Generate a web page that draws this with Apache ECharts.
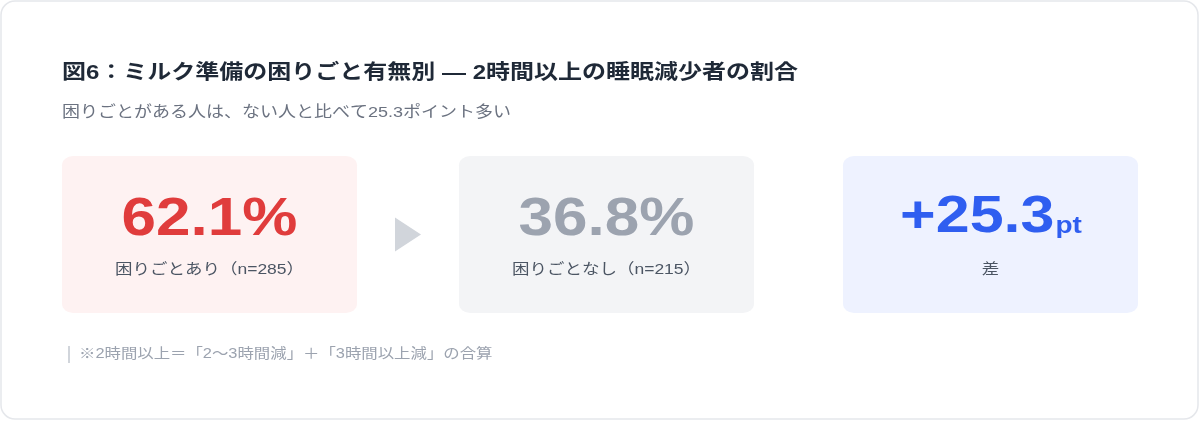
<!DOCTYPE html>
<html><head><meta charset="utf-8">
<script src="https://cdn.jsdelivr.net/npm/echarts@6/dist/echarts.min.js"></script>
<style>html,body{margin:0;padding:0;background:#fff}#c{width:1200px;height:421px}</style>
</head><body><div id="c"></div>
<script>
const title = '図6：ミルク準備の困りごと有無別 — 2時間以上の睡眠減少者の割合';
const subtitle = '困りごとがある人は、ない人と比べて25.3ポイント多い';
const groupLabels = ['困りごとあり', '困りごとなし'];
const groupN = [285, 215];
const groupValues = [62.1, 36.8];
const diffValue = 25.3;
const diffUnit = 'pt';
const diffLabel = '差';
const note = '※2時間以上＝「2〜3時間減」＋「3時間以上減」の合算';

const FONT = '"Liberation Sans", Arial, "Noto Sans CJK JP", sans-serif';
const S = 421 / 488;           // vertical squash of the reference
const Y = v => v / S;          // image y -> design y

const chart = echarts.init(document.getElementById('c'), null, {renderer: 'canvas'});

const cardX = [62, 459, 843];
const cardW = 295;
const cardTop = 156, cardBot = 313;
const cardFill = ['#fef2f2', '#f3f4f6', '#eef2ff'];
const numColor = ['#e03c3c', '#9ca3af'];

function measure(text, size, weight) {
  const c = document.createElement('canvas').getContext('2d');
  c.font = weight + ' ' + size + 'px ' + FONT;
  return c.measureText(text).width;
}

const children = [];
// title & subtitle
children.push({type: 'text', style: {text: title, x: 62, y: Y(73), textAlign: 'left', textVerticalAlign: 'middle',
  fill: '#1f2937', fontSize: 24, fontWeight: 'bold', fontFamily: FONT}});
children.push({type: 'text', style: {text: subtitle, x: 62, y: Y(113), textAlign: 'left', textVerticalAlign: 'middle',
  fill: '#6b7280', fontSize: 18, fontFamily: FONT}});

// cards
cardX.forEach((x, i) => {
  children.push({type: 'rect', shape: {x: x, y: Y(cardTop), width: cardW, height: Y(cardBot) - Y(cardTop), r: 11},
    style: {fill: cardFill[i]}});
});

// group cards
groupValues.forEach((v, i) => {
  const cx = cardX[i] + cardW / 2;
  children.push({type: 'text', style: {text: v.toFixed(1) + '%', x: cx, y: Y(220), textAlign: 'center', textVerticalAlign: 'middle',
    fill: numColor[i], fontSize: 62, fontWeight: 'bold', fontFamily: FONT}});
  children.push({type: 'text', style: {text: groupLabels[i] + '（n=' + groupN[i] + '）', x: cx, y: Y(270), textAlign: 'center', textVerticalAlign: 'middle',
    fill: '#4b5563', fontSize: 17.5, fontFamily: FONT}});
});

// arrow
const ax = (cardX[0] + cardW + cardX[1]) / 2;
const ay = Y((cardTop + cardBot) / 2);
children.push({type: 'polygon', shape: {points: [[ax - 13, ay - Y(17)], [ax + 13, ay], [ax - 13, ay + Y(17)]]},
  style: {fill: '#d1d5db'}});

// diff card
const dText = '+' + diffValue.toFixed(1);
const w1 = measure(dText, 61, 'bold'), w2 = measure(diffUnit, 28, 'bold');
const dcx = cardX[2] + cardW / 2;
const dStart = dcx - (w1 + w2) / 2;
const baseY = Y(244);
children.push({type: 'text', style: {text: dText, x: dStart, y: baseY, textAlign: 'left', textVerticalAlign: 'bottom',
  fill: '#2f5ef0', fontSize: 61, fontWeight: 'bold', fontFamily: FONT, lineHeight: 61}});
children.push({type: 'text', style: {text: diffUnit, x: dStart + w1 + 1, y: baseY - 7, textAlign: 'left', textVerticalAlign: 'bottom',
  fill: '#2f5ef0', fontSize: 28, fontWeight: 'bold', fontFamily: FONT, lineHeight: 28}});
children.push({type: 'text', style: {text: diffLabel, x: dcx, y: Y(270), textAlign: 'center', textVerticalAlign: 'middle',
  fill: '#4b5563', fontSize: 17.5, fontFamily: FONT}});

// footnote
children.push({type: 'rect', shape: {x: 68, y: Y(346), width: 2, height: Y(363) - Y(346)}, style: {fill: '#d1d5db'}});
children.push({type: 'text', style: {text: note, x: 79, y: Y(354), textAlign: 'left', textVerticalAlign: 'middle',
  fill: '#9ca3af', fontSize: 16.4, fontFamily: FONT}});

chart.setOption({
  backgroundColor: '#ffffff',
  animation: false,
  graphic: {elements: [
    {type: 'rect', shape: {x: 1, y: 1, width: 1197, height: 418, r: 14}, style: {fill: '#fff', stroke: '#e5e7eb', lineWidth: 1.5}},
    {type: 'group', x: 0, y: 0, scaleY: S, children: children}
  ]}
});
</script></body></html>
